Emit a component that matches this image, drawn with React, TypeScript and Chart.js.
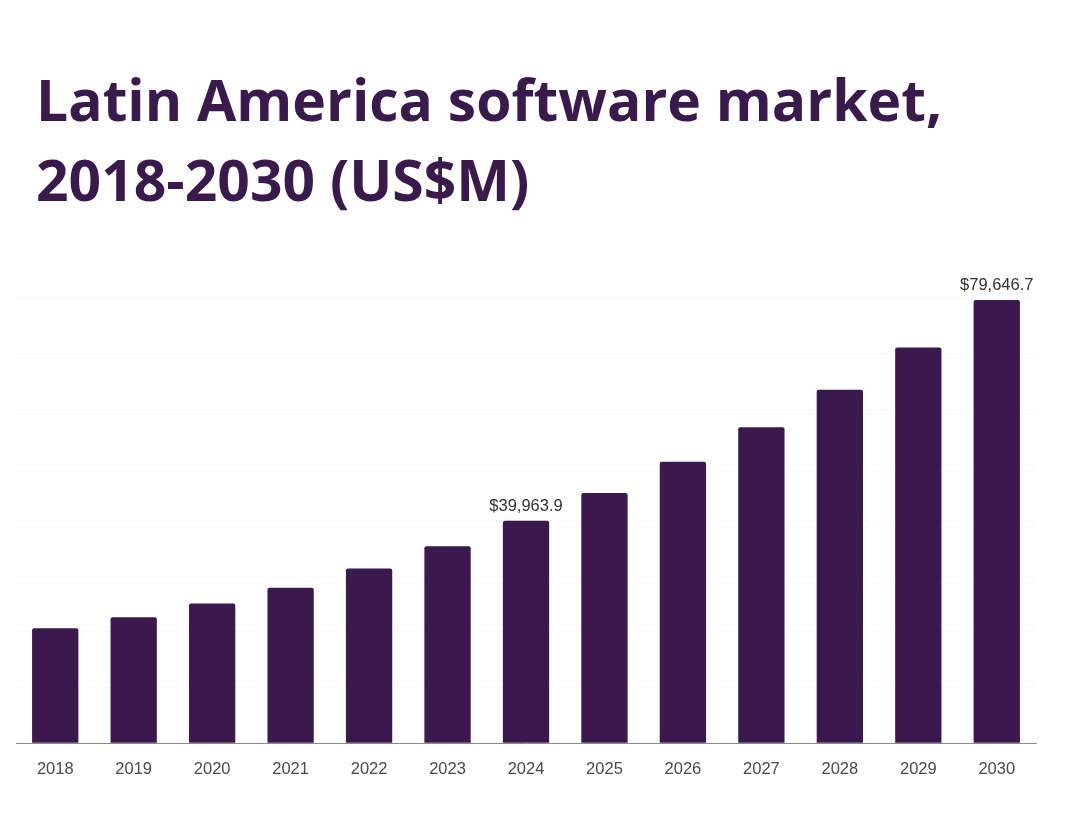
import { useEffect, useRef } from "react";
import { Chart, registerables } from "chart.js";

Chart.register(...registerables);

const years = ["2018", "2019", "2020", "2021", "2022", "2023", "2024", "2025", "2026", "2027", "2028", "2029", "2030"];
const revenue = [20640, 22630, 25100, 27940, 31400, 35400, 39963.9, 44970, 50570, 56760, 63520, 71100, 79646.7];
// only these bars get a value label on top
const labelledYears = ["2024", "2030"];

const barColor = "#3b184d";
const titleColor = "#3a1a4c";

const valueLabels = {
    id: "valueLabels",
    afterDatasetsDraw(chart: Chart) {
        const ctx = chart.ctx;
        const meta = chart.getDatasetMeta(0);
        ctx.save();
        ctx.font = "16.5px 'Liberation Sans', Arial, sans-serif";
        ctx.fillStyle = "#333";
        ctx.textAlign = "center";
        ctx.textBaseline = "bottom";
        meta.data.forEach((bar: any, i: number) => {
            if (!labelledYears.includes(years[i])) return;
            const text = "$" + revenue[i].toLocaleString("en-US", { minimumFractionDigits: 1, maximumFractionDigits: 1 });
            ctx.fillText(text, bar.x, bar.y - 6);
        });
        ctx.restore();
    },
};

export default function App() {
    const chartRef = useRef<HTMLCanvasElement>(null);
    const chartInstance = useRef<Chart | null>(null);

    useEffect(() => {
        document.body.style.margin = "0";
        if (!chartRef.current) return;

        const config = {
            type: "bar",
            data: {
                labels: years,
                datasets: [
                    {
                        label: "Revenue (US$M)",
                        data: revenue,
                        backgroundColor: barColor,
                        borderRadius: 2,
                        borderSkipped: "bottom",
                        categoryPercentage: 1,
                        barPercentage: 0.59,
                    },
                ],
            },
            options: {
                responsive: false,
                animation: false,
                layout: { padding: { left: 16, right: 44, top: 38, bottom: 0 } },
                plugins: {
                    legend: { display: false },
                    tooltip: { enabled: false },
                },
                scales: {
                    x: {
                        grid: { display: false },
                        border: { display: true, color: "#8a8a8a", width: 1 },
                        ticks: {
                            color: "#4a4a4a",
                            padding: 8,
                            font: { size: 16.5, family: "'Liberation Sans', Arial, sans-serif" },
                        },
                    },
                    y: {
                        min: 0,
                        max: 80000,
                        ticks: { display: false, stepSize: 10000 },
                        border: { display: false },
                        grid: { color: "rgba(60, 20, 80, 0.035)", drawTicks: false },
                    },
                },
            },
            plugins: [valueLabels],
        };

        if (chartInstance.current) {
            chartInstance.current.destroy();
        }
        chartInstance.current = new Chart(chartRef.current, config as any);

        return () => {
            if (chartInstance.current) {
                chartInstance.current.destroy();
                chartInstance.current = null;
            }
        };
    }, []);

    return (
        <div style={{ position: "relative", width: 1080, height: 837, background: "#fff", overflow: "hidden" }}>
            <div
                style={{
                    position: "absolute",
                    left: 36,
                    top: 59,
                    fontFamily: "'Open Sans', sans-serif",
                    fontWeight: 700,
                    fontSize: 57,
                    lineHeight: "80px",
                    color: titleColor,
                    whiteSpace: "nowrap",
                }}
            >
                Latin America software market,
                <br />
                2018-2030 (US$M)
            </div>
            <canvas ref={chartRef} width={1080} height={527} style={{ position: "absolute", left: 0, top: 260 }} />
        </div>
    );
}
